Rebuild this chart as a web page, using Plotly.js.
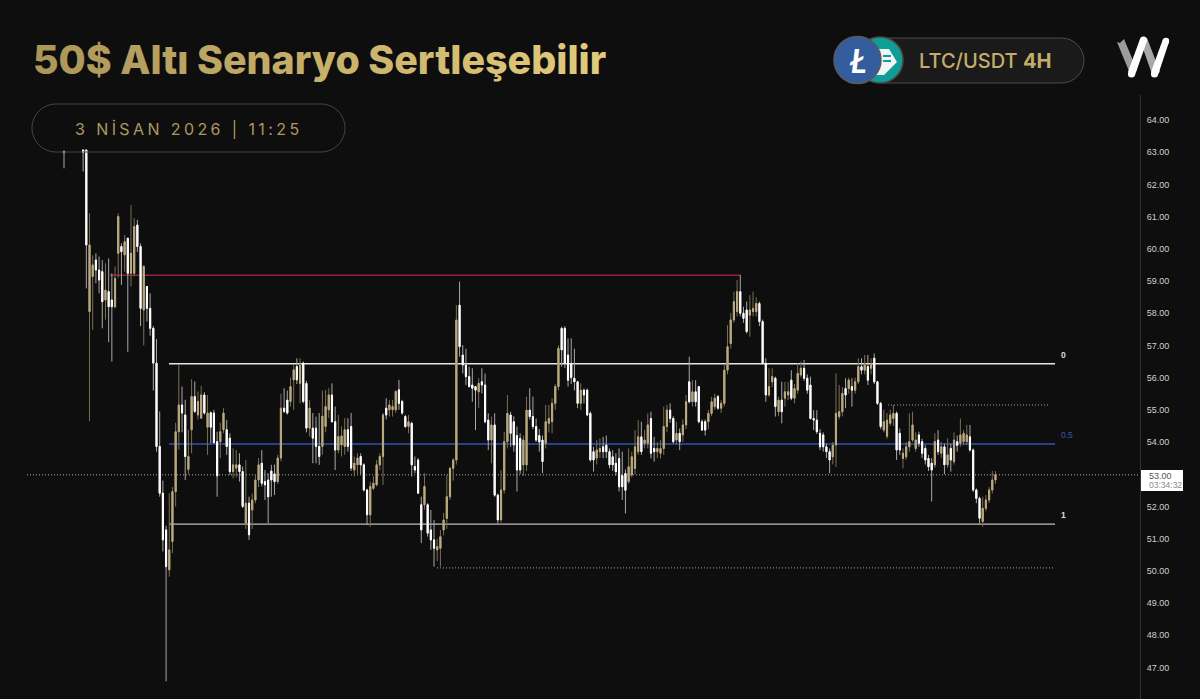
<!DOCTYPE html>
<html>
<head>
<meta charset="utf-8">
<script src="https://cdn.plot.ly/plotly-3.0.1.min.js"></script>
<style>html,body{margin:0;padding:0;background:#0e0e0e}#chart{width:1200px;height:699px}</style>
</head>
<body>
<div id="chart"></div>
<script>
const opens = [63.02,
63.07,63.07,58.05,59.14,59.65,59.34,59.29,58.41,58.67,58.41,
58.20,59.86,60.07,59.81,60.33,59.24,59.24,60.74,60.07,58.10,
58.83,58.15,57.53,56.45,53.86,52.41,51.27,50.03,50.91,52.46,
54.32,55.15,54.84,53.15,54.38,55.41,54.84,54.74,55.46,54.46,
54.91,54.90,54.01,54.01,54.38,54.38,54.12,53.08,53.19,53.29,
53.08,51.48,52.10,51.89,52.20,52.82,53.34,52.77,52.82,53.10,
53.01,52.77,53.50,55.05,55.30,55.26,55.93,56.34,55.82,56.45,
55.82,54.43,54.43,54.43,53.86,53.86,54.48,55.00,55.46,54.63,
53.75,53.91,53.86,54.38,54.48,53.13,53.29,53.55,53.29,52.51,51.74,
52.56,52.67,53.29,53.55,55.05,55.00,55.00,55.00,55.62,55.26,
54.79,54.48,54.58,53.24,53.44,52.05,52.05,52.05,51.27,50.96,
50.65,50.70,51.27,51.63,52.30,53.18,53.44,58.25,56.70,56.39,
56.03,55.77,55.72,55.56,55.87,55.77,54.68,54.06,54.53,52.35,
51.58,52.51,54.01,54.84,54.63,54.20,54.11,53.29,53.29,54.99,
54.79,54.48,54.20,54.06,53.96,54.58,54.63,55.20,55.72,57.53,
57.53,56.70,56.44,55.98,55.87,55.20,55.61,55.61,54.89,53.70,
53.50,53.70,53.85,53.90,53.70,53.54,53.34,53.49,52.96,53.02,
52.77,52.98,53.18,53.70,54.16,53.96,53.96,54.73,53.80,53.70,
53.65,53.80,54.48,54.99,54.73,54.06,54.27,54.22,54.53,55.87,
55.25,55.56,55.72,54.63,54.63,54.63,54.89,55.10,55.41,55.05,
55.20,56.23,57.06,57.79,58.05,58.67,58.00,58.10,57.94,58.05,
58.05,58.30,57.74,56.44,55.46,55.87,55.98,54.94,55.30,55.36,
55.46,55.92,55.36,55.61,56.08,56.29,55.98,55.77,54.73,
54.68,54.27,54.22,53.85,53.70,53.54,53.91,54.79,54.94,55.66,
55.66,55.72,55.61,55.87,56.34,56.23,56.34,56.29,56.60,55.87,
55.20,54.37,54.18,54.58,54.73,54.89,54.27,53.49,53.54,53.85,
54.06,53.80,54.22,54.01,53.80,53.49,53.34,53.29,54.06,53.65,
53.85,53.29,53.80,53.39,54.01,53.96,54.01,54.01,54.16,53.75,
52.51,52.25,51.53,51.94,52.20,52.51,52.82];
const highs = [63.06,
63.07,63.07,61.10,59.80,59.86,59.76,59.65,59.55,59.70,59.24,
59.45,61.10,60.17,60.43,60.33,61.36,60.95,60.90,60.17,59.50,
58.83,58.62,57.60,57.20,54.95,52.80,51.40,52.41,52.60,54.60,
56.39,55.72,55.31,54.38,55.95,55.88,55.57,55.74,55.55,55.46,
54.95,55.00,54.32,54.60,55.05,54.68,54.27,53.80,53.75,53.65,
53.24,53.44,52.30,52.40,53.00,53.50,53.75,53.13,53.03,53.29,
53.30,53.60,55.50,55.67,55.60,56.00,56.40,56.60,56.60,56.50,
55.90,55.30,54.90,54.79,54.90,55.60,55.62,55.67,55.82,55.10,
54.84,54.48,54.74,54.74,54.90,53.55,53.65,53.65,53.34,52.55,52.77,
52.93,53.44,53.65,54.90,55.36,55.31,55.31,55.60,55.93,55.31,
54.84,54.84,54.63,53.55,53.50,52.30,53.03,52.10,51.89,51.58,
51.00,51.27,51.80,52.97,53.23,53.50,58.25,58.98,57.01,56.90,
56.34,56.29,55.72,55.98,56.29,56.13,54.89,54.79,54.89,52.40,
53.13,54.32,55.46,54.94,54.80,54.48,54.27,54.20,55.41,55.67,
55.41,54.73,54.40,54.20,55.15,55.15,55.36,55.80,57.00,57.58,
57.60,57.22,57.22,56.90,55.90,55.82,55.66,55.66,54.95,53.85,
54.06,54.11,54.16,54.20,53.80,53.75,53.65,53.80,53.70,53.15,
53.80,53.70,54.37,54.68,54.63,54.37,54.89,54.94,54.16,54.00,
54.06,55.10,55.15,55.20,54.80,54.63,54.42,54.70,55.46,56.65,
55.92,55.92,55.72,54.70,54.70,55.00,55.40,55.50,55.46,55.30,
56.40,57.63,58.00,58.67,59.03,59.18,58.20,58.36,58.56,58.67,
58.50,58.36,57.80,56.60,56.29,56.29,56.03,55.40,55.87,55.87,
55.87,56.23,55.80,56.44,56.50,56.55,56.10,56.03,54.99,
54.99,54.40,54.30,53.95,53.80,54.00,56.13,55.77,55.70,55.98,
56.00,55.98,56.00,56.60,56.60,56.70,56.70,56.60,56.75,55.90,
55.25,55.00,54.90,55.00,55.15,54.95,54.42,53.80,54.00,54.89,
54.94,54.30,54.32,54.10,53.90,53.60,53.50,54.27,54.37,54.00,
53.95,54.11,53.95,54.30,54.20,54.73,54.37,54.53,54.53,53.80,
52.56,52.30,52.30,52.35,52.60,53.10,53.10];
const lows = [62.50,
62.40,58.77,54.65,57.48,58.93,58.62,57.53,57.80,57.10,56.50,
58.15,59.10,58.88,59.29,56.80,58.83,59.14,59.90,57.60,57.00,
57.74,57.30,55.60,53.70,52.30,50.60,46.57,49.82,50.55,52.00,
53.76,54.30,52.82,53.00,53.65,54.90,54.70,54.74,54.85,53.60,
53.96,53.96,52.30,53.50,54.27,53.60,52.98,52.87,52.90,52.77,
51.95,51.30,50.96,51.30,52.10,52.60,52.62,52.20,51.48,52.30,
52.35,52.70,53.40,54.90,54.85,55.10,55.00,55.80,55.20,55.20,
54.30,54.17,53.34,53.34,53.29,53.60,54.30,54.74,54.60,53.13,
53.65,53.55,53.60,53.70,53.10,52.93,52.98,53.00,52.46,51.43,51.37,
52.51,52.62,53.13,52.67,54.70,54.79,54.79,54.90,55.00,54.84,
54.43,54.27,52.93,53.03,52.40,50.86,51.90,51.06,50.65,50.13,
50.30,50.13,51.10,51.30,52.20,52.80,53.30,56.65,56.13,55.77,
55.70,55.25,54.37,55.05,55.51,54.58,53.75,53.34,52.30,51.47,
51.50,52.40,53.80,53.85,53.70,52.46,53.00,52.95,53.10,54.70,
54.40,54.00,53.70,53.03,53.80,54.30,54.27,55.00,55.60,56.34,
56.30,55.72,55.80,55.60,55.05,55.00,55.20,54.80,53.39,53.08,
53.30,53.50,53.50,53.50,53.18,53.10,52.95,52.46,52.20,51.78,
52.70,52.90,53.00,53.60,53.60,53.80,53.80,53.49,53.39,53.50,
53.49,53.60,54.30,54.60,53.95,53.95,53.75,54.00,54.40,55.20,
55.10,55.10,54.58,54.35,54.20,54.40,54.80,55.00,55.00,54.90,
55.10,56.10,56.90,57.70,57.90,57.90,57.70,57.37,57.27,57.90,
57.90,57.60,56.40,55.25,55.40,55.70,54.79,54.80,54.58,55.10,
55.30,55.30,55.20,55.50,56.00,55.90,55.50,54.70,54.37,
54.25,53.75,53.70,53.50,53.03,53.30,53.23,54.70,54.80,55.05,
55.50,55.10,55.50,55.80,56.10,56.10,55.77,56.10,55.80,55.15,
54.40,54.30,54.10,54.50,54.50,53.44,53.60,53.18,53.45,53.70,
54.00,53.70,53.85,53.50,53.30,53.10,52.15,53.20,53.60,53.50,
53.00,53.20,53.08,53.30,53.70,53.85,53.90,53.90,53.70,52.45,
52.10,51.47,51.37,51.85,52.10,52.40,52.70];
const closes = [63.00,
62.99,60.12,60.12,59.50,59.34,59.03,58.36,58.72,58.20,58.20,
59.08,61.00,59.91,60.22,59.24,59.86,60.69,60.07,58.15,59.45,
58.15,57.53,56.45,53.86,52.41,50.96,50.13,50.65,52.46,54.32,
55.15,54.90,53.55,53.55,55.41,54.95,55.26,55.46,54.90,54.90,
54.46,53.98,52.95,54.32,54.90,53.86,53.08,53.29,53.29,53.08,
52.00,52.10,51.12,52.20,52.82,53.29,52.72,52.67,52.30,52.82,
52.77,53.50,55.05,54.95,54.90,55.72,56.24,55.93,56.39,55.26,
54.43,55.05,54.12,53.86,53.55,54.80,55.10,55.46,54.63,53.75,
54.17,54.19,54.38,53.86,53.19,53.34,53.50,53.29,52.51,51.74,52.62,
52.72,53.29,53.55,54.84,54.84,55.15,55.10,55.57,55.20,54.90,
54.48,54.63,53.29,53.13,52.41,51.27,52.62,51.17,50.96,50.70,
50.75,51.06,51.58,52.30,53.18,53.44,57.79,56.96,56.39,56.03,
55.72,55.67,55.61,55.82,55.77,54.63,54.06,54.53,52.35,51.58,
52.51,54.01,54.89,54.27,53.91,53.13,53.13,54.06,54.99,54.79,
54.48,54.06,54.00,53.39,54.63,54.73,55.20,55.72,56.91,56.86,
56.44,55.92,56.00,55.87,55.20,55.61,55.46,54.84,53.44,53.44,
53.75,53.80,53.70,53.70,53.29,53.29,53.08,52.61,52.61,52.50,
53.23,53.54,53.85,54.16,53.70,54.06,54.53,53.65,53.70,53.80,
53.80,54.48,54.99,54.73,54.01,54.27,54.01,54.53,55.25,55.25,
55.56,55.25,54.63,54.37,54.37,54.89,55.25,55.36,55.05,55.20,
56.23,56.96,57.79,58.36,58.67,58.00,57.84,57.43,58.10,58.15,
58.30,57.74,56.44,55.46,55.72,56.03,55.10,55.30,54.94,55.56,
55.56,55.36,55.66,56.13,56.29,55.98,55.61,54.73,54.68,
54.32,53.85,53.85,53.70,53.44,53.90,54.89,54.94,55.51,55.46,
55.92,55.61,55.87,56.34,56.23,56.39,55.92,56.44,55.87,55.20,
54.48,54.63,54.68,54.84,54.89,53.75,53.75,53.65,53.85,54.01,
54.53,54.06,53.96,53.65,53.44,53.23,53.13,54.01,53.70,53.85,
53.29,53.60,53.44,54.06,53.90,54.22,54.27,54.22,53.75,52.51,
52.25,51.63,51.94,52.20,52.51,52.82,52.98];
const priceTicks = [47,48,49,50,51,52,53,54,55,56,57,58,59,60,61,62,63,64];
const fibZero = 56.43, fibHalf = 53.94, fibOne = 51.45;
const resistance = 59.18, upperDotted = 55.15, lowerDotted = 50.09, lastPrice = 52.98;

const W = 1200, H = 699;
const px = x => x / W, py = y => 1 - y / H;
const STEP = 3.19, ORIGIN = 64, AXIS_X = 1140;
const bar = x => (x - ORIGIN) / STEP;
const barIndex = opens.map((_, i) => i === 0 ? 0 : i + 5);
const bodyHigh = opens.map((o, i) => Math.max(o, closes[i]));
const bodyLow = opens.map((o, i) => Math.min(o, closes[i]));

const UP = '#bcaa80', DOWN = '#ffffff', UPW = '#7a7055', DOWNW = '#a8a8a8';
const wicks = {type:'candlestick', x:barIndex, open:opens, high:highs, low:lows, close:closes,
  increasing:{line:{color:UPW,width:1}, fillcolor:UPW},
  decreasing:{line:{color:DOWNW,width:1}, fillcolor:DOWNW},
  whiskerwidth:0, hoverinfo:'skip', showlegend:false};
const bodies = {type:'candlestick', x:barIndex, open:opens, high:bodyHigh, low:bodyLow, close:closes,
  increasing:{line:{color:UP,width:1}, fillcolor:UP},
  decreasing:{line:{color:DOWN,width:1}, fillcolor:DOWN},
  whiskerwidth:0, hoverinfo:'skip', showlegend:false};

function hline(x0, x1, y, color, width, dash) {
  return {type:'line', xref:'x', yref:'y', x0:bar(x0), x1:bar(x1), y0:y, y1:y, layer:'below',
    line:{color:color, width:width, dash:dash || 'solid'}};
}
function poly(points, fill) {
  const d = points.map((p, i) => (i ? 'L' : 'M') + px(p[0]) + ',' + py(p[1])).join(' ') + ' Z';
  return {type:'path', xref:'paper', yref:'paper', path:d, fillcolor:fill, line:{width:0}, layer:'above'};
}
function pill(x0, y0, x1, y1, fill, stroke) {
  const r = (y1 - y0) / 2, k = r * 0.448;
  const P = (x, y) => px(x) + ',' + py(y);
  const d = 'M' + P(x0 + r, y0) + ' L' + P(x1 - r, y0) +
    ' C' + P(x1 - k, y0) + ' ' + P(x1, y0 + k) + ' ' + P(x1, y0 + r) +
    ' C' + P(x1, y1 - k) + ' ' + P(x1 - k, y1) + ' ' + P(x1 - r, y1) +
    ' L' + P(x0 + r, y1) +
    ' C' + P(x0 + k, y1) + ' ' + P(x0, y1 - k) + ' ' + P(x0, y0 + r) +
    ' C' + P(x0, y0 + k) + ' ' + P(x0 + k, y0) + ' ' + P(x0 + r, y0) + ' Z';
  return {type:'path', xref:'paper', yref:'paper', path:d, fillcolor:fill, line:{color:stroke, width:1}, layer:'above'};
}
function disc(cx, cy, r, fill, stroke) {
  return {type:'circle', xref:'paper', yref:'paper', x0:px(cx - r), x1:px(cx + r), y0:py(cy + r), y1:py(cy - r),
    fillcolor:fill, line:stroke ? {color:stroke, width:1.5} : {width:0}, layer:'above'};
}
function label(x, y, text, size, color, extra) {
  return Object.assign({xref:'paper', yref:'paper', x:px(x), y:py(y), text:text, showarrow:false,
    xanchor:'left', yanchor:'middle', font:{size:size, color:color, family:'Inter, sans-serif'}}, extra || {});
}
const smallFont = (size, color, weight) => ({size:size, color:color, family:'Liberation Sans', weight:weight});

const shapes = [
  hline(110, 741, resistance, '#96203c', 1.4),
  hline(169, 1055, fibZero, '#e6e6e6', 1.3),
  hline(169, 1055, fibHalf, '#3156b0', 1.6),
  hline(169, 1055, fibOne, '#bdbdbd', 1.4),
  hline(888, 1049, upperDotted, '#a0a0a0', 1, '1px,2px'),
  hline(437, 1055, lowerDotted, '#a0a0a0', 1, '1px,2px'),
  hline(27, AXIS_X, lastPrice, '#b0b0b0', 1, '1px,2px'),
  pill(32, 104, 345, 152, 'rgba(0,0,0,0)', '#474744'),
  pill(858, 38, 1084, 83, '#1a1a1a', '#4c4b46'),
  disc(880, 60, 23, '#0f9d97', '#4c4b46'),
  poly([[876,49],[889,49],[897,62],[884,75],[876,75]], '#f2f5f5'),
  poly([[883,55],[891,55],[891,57],[883,57]], '#0f9d97'),
  poly([[883,60],[891,60],[891,62],[883,62]], '#0f9d97'),
  disc(857.5, 60, 23.5, '#345d9d', '#5a5a62'),
  poly([[1117,42],[1120,43],[1124,39],[1137,70],[1131,76]], '#9c9c9c'),
  poly([[1140,40],[1147,38],[1160,72],[1153,77]], '#a8a8a8'),
  poly([[1128,72],[1140,39],[1147,41],[1135,75]], '#ffffff'),
  poly([[1151,72],[1163,39],[1169,42],[1158,75]], '#ffffff'),
  disc(1131.5, 74, 3.6, '#ffffff'),
  disc(1143.5, 40, 3.6, '#ffffff'),
  disc(1154.5, 74, 3.6, '#ffffff'),
  disc(1166, 41, 3.2, '#ffffff'),
  {type:'rect', xref:'paper', yref:'paper', x0:px(1141), x1:px(1183), y0:py(491), y1:py(470), fillcolor:'#ffffff', line:{width:0}, layer:'above'}
];

const annotations = [
  label(31, 59, '50$ Altı Senaryo Sertleşebilir', 39.3, '#c8b06c',
    {font:{size:39.3, color:'#c8b06c', family:'Inter, sans-serif', weight:800}}),
  label(188.5, 129, '3 NİSAN 2026 | 11:25', 16, '#ad9860', {xanchor:'center', font:{size:16, color:'#ad9860', family:'Inter, sans-serif', weight:400}}),
  label(917, 60.5, 'LTC/USDT <b>4H</b>', 20, '#c4ad6a', {font:{size:20, color:'#c4ad6a', family:'Inter, sans-serif', weight:500}}),
  label(857.5, 60, '<b><i>Ł</i></b>', 33, '#ffffff', {xanchor:'center', font:{size:33, color:'#ffffff', family:'Lato, sans-serif', weight:900}}),
  label(1059, 354.5, '0', 8.5, '#dddddd', {font:smallFont(8.5, '#dddddd', 700)}),
  label(1059, 435, '0.5', 8.5, '#3557ab', {font:smallFont(8.5, '#3557ab', 400)}),
  label(1059, 515, '1', 8.5, '#dddddd', {font:smallFont(8.5, '#dddddd', 700)}),
  label(1147, 475.5, '53.00', 9, '#555555', {font:smallFont(9, '#555555', 400)}),
  label(1147, 485, '03:34:32', 8.5, '#8a8a8a', {font:smallFont(8.5, '#8a8a8a', 400)})
];

const layout = {
  width:W, height:H, paper_bgcolor:'#0e0e0e', plot_bgcolor:'#0e0e0e',
  margin:{l:0, r:0, t:0, b:0, pad:0}, showlegend:false, boxgap:0.5, boxmode:'overlay',
  xaxis:{domain:[0, AXIS_X / W], range:[bar(0), bar(AXIS_X)], visible:false, fixedrange:true,
    rangeslider:{visible:false}, showgrid:false, zeroline:false},
  yaxis:{domain:[0, 1 - 95 / H], range:[64 - (H - 120) / 32.2, 64 + 25 / 32.2], side:'right', fixedrange:true,
    tickvals:priceTicks, ticktext:priceTicks.map(v => v.toFixed(2)), showgrid:false, zeroline:false,
    showline:true, linecolor:'#333333', linewidth:1, ticks:'outside', ticklen:4, tickcolor:'rgba(0,0,0,0)',
    tickfont:smallFont(9, '#d0d0d0', 400)},
  shapes:shapes, annotations:annotations
};

function polish() {
  const ns = 'http://www.w3.org/2000/svg';
  document.querySelectorAll('#chart .annotation-text').forEach(t => {
    if (t.textContent.indexOf('NİSAN') >= 0) t.style.letterSpacing = '3.4px';
    if (t.textContent.indexOf('Senaryo') >= 0) {
      const owner = t.ownerSVGElement;
      const defs = document.createElementNS(ns, 'defs');
      const g = document.createElementNS(ns, 'linearGradient');
      g.setAttribute('id', 'titleGold');
      [['0%', '#ab9559'], ['100%', '#e3cb7d']].forEach(s => {
        const stop = document.createElementNS(ns, 'stop');
        stop.setAttribute('offset', s[0]); stop.setAttribute('stop-color', s[1]); g.appendChild(stop);
      });
      defs.appendChild(g); owner.insertBefore(defs, owner.firstChild);
      t.style.fill = 'url(#titleGold)';
    }
  });
}
Plotly.newPlot('chart', [wicks, bodies], layout, {staticPlot:true, displayModeBar:false}).then(polish);
</script>
</body>
</html>
